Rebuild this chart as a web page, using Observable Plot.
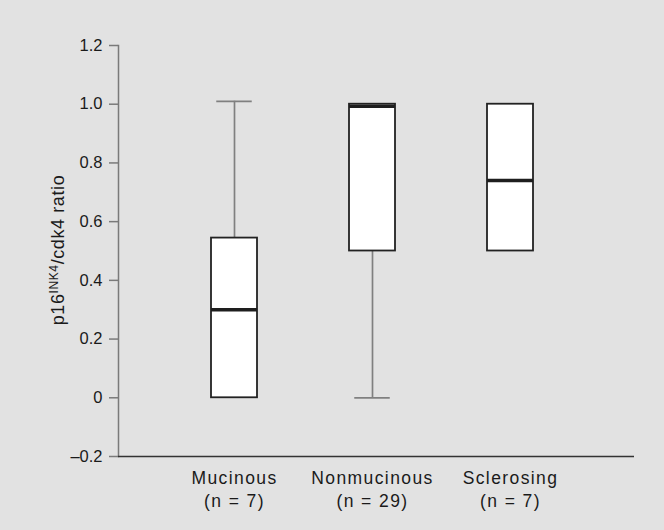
<!DOCTYPE html>
<html>
<head>
<meta charset="utf-8">
<script src="https://cdn.jsdelivr.net/npm/d3@7"></script>
<script src="https://cdn.jsdelivr.net/npm/@observablehq/plot@0.6"></script>
<style>
  html, body { margin: 0; padding: 0; background: #e2e2e2; }
  #chart { position: absolute; left: 0; top: 0; width: 664px; height: 530px; }
  svg { font-family: "Liberation Sans", Arial, sans-serif; }
  svg g[aria-label*="y-axis"] text { font-size: 16.5px !important; }
  svg g[aria-label*="x-axis"] text { font-size: 17.5px !important; letter-spacing: 1.4px; }
</style>
</head>
<body>
<div id="chart"></div>
<script>
// Data
const categories = ["Mucinous", "Nonmucinous", "Sclerosing"];
const nCounts = [7, 29, 7];
const whiskerLow = [0, 0, 0.5];
const q1 = [0, 0.5, 0.5];
const median = [0.3, 0.993, 0.74];
const q3 = [0.544, 1.0, 1.0];
const whiskerHigh = [1.01, 1.0, 1.0];
const yTicks = [-0.2, 0, 0.2, 0.4, 0.6, 0.8, 1.0, 1.2];

const data = categories.map((c, i) => ({
  cat: c, n: nCounts[i], lo: whiskerLow[i], q1: q1[i], med: median[i], q3: q3[i], hi: whiskerHigh[i]
}));
const upper = data.filter(d => d.hi > d.q3);
const lower = data.filter(d => d.lo < d.q1);

const fmtY = d => d === 0 ? "0" : (d < 0 ? "–" + Math.abs(d).toFixed(1) : d.toFixed(1));
const nOf = c => nCounts[categories.indexOf(c)];

const plot = Plot.plot({
  width: 664,
  height: 530,
  marginLeft: 118,
  marginRight: 30,
  marginTop: 45,
  marginBottom: 74,
  style: { background: "transparent", overflow: "visible", fontSize: "17.5px" },
  x: { domain: categories, paddingInner: 0.67, paddingOuter: 0.7045, align: 0.479, axis: null, label: null },
  y: { domain: [-0.2, 1.2], axis: null, label: null },
  marks: [
    Plot.frame({ anchor: "left", stroke: "#7a7a7a", strokeWidth: 1.5 }),
    Plot.ruleY([-0.2], { stroke: "#333", strokeWidth: 1.6 }),
    Plot.axisY({ ticks: yTicks, tickFormat: fmtY, tickSize: 9, tickPadding: 7, label: null, stroke: "#7a7a7a", fill: "#1a1a1a", strokeWidth: 1.5 }),
    Plot.axisX({ tickSize: 0, tickPadding: 11, label: null, lineHeight: 1.31, fill: "#1a1a1a",
      tickFormat: c => c + "\n(n = " + nOf(c) + ")" }),
    Plot.ruleX(upper, { x: "cat", y1: "q3", y2: "hi", stroke: "#808080", strokeWidth: 1.7 }),
    Plot.ruleX(lower, { x: "cat", y1: "lo", y2: "q1", stroke: "#808080", strokeWidth: 1.7 }),
    Plot.tickY(upper, { x: "cat", y: "hi", stroke: "#808080", strokeWidth: 1.7, insetLeft: 5.25, insetRight: 5.25 }),
    Plot.tickY(lower, { x: "cat", y: "lo", stroke: "#808080", strokeWidth: 1.7, insetLeft: 5.25, insetRight: 5.25 }),
    Plot.barY(data, { x: "cat", y1: "q1", y2: "q3", fill: "white", stroke: "#222", strokeWidth: 1.8 }),
    Plot.tickY(data, { x: "cat", y: "med", stroke: "#1e1e1e", strokeWidth: 3.6 })
  ]
});

const svg = d3.select(plot);

// y-axis title with superscript
const t = svg.append("text")
  .attr("transform", "translate(63.5,250) rotate(-90)")
  .attr("text-anchor", "middle")
  .style("font-size", "18px")
  .attr("letter-spacing", 0.6)
  .attr("fill", "#1a1a1a");
t.append("tspan").text("p16");
t.append("tspan").style("font-size", "12px").attr("dy", "-6").text("INK4");
t.append("tspan").attr("dy", "6").text("/cdk4 ratio");

document.getElementById("chart").appendChild(plot);
</script>
</body>
</html>
